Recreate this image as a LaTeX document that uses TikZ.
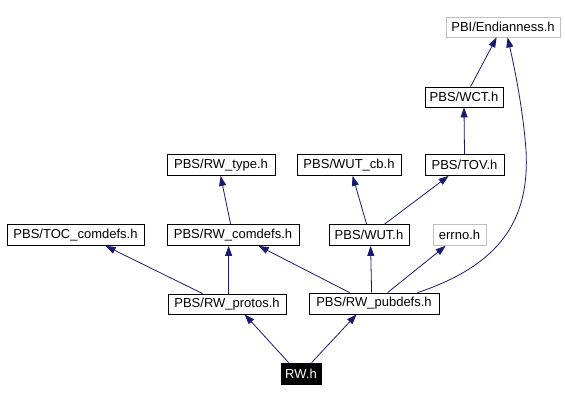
\documentclass[tikz,border=0pt]{standalone}
\usepackage{fontspec}
\setmainfont{Liberation Sans}
\usetikzlibrary{arrows.meta,calc}
\definecolor{edgeblue}{HTML}{191970}
\definecolor{graybox}{HTML}{BFBFBF}
\begin{document}
\begin{tikzpicture}[x=1pt,y=-1pt,
  box/.style={draw=black,line width=0.8pt,fill=white,inner sep=0pt,minimum height=21pt,font=\fontsize{13}{15}\selectfont},
  gbox/.style={box,draw=graybox},
  rwbox/.style={box,fill=black,text=white},
  dep/.style={draw=edgeblue,line width=0.8pt,-{Triangle[length=10pt,width=7pt]}}]
\useasboundingbox (0,0) rectangle (565,401);
\node[gbox,minimum width=114pt,minimum height=20pt] (endian) at (503,27) {PBI/Endianness.h};
\node[box,minimum width=78pt,minimum height=20pt] (wct) at (464,97) {PBS/WCT.h};
\node[box,minimum width=79pt] (tov) at (464.5,165) {PBS/TOV.h};
\node[box,minimum width=104pt] (wutcb) at (349,165) {PBS/WUT\_cb.h};
\node[box,minimum width=108pt] (rwtype) at (221,165) {PBS/RW\_type.h};
\node[box,minimum width=137pt] (toc) at (75.5,235) {PBS/TOC\_comdefs.h};
\node[box,minimum width=132pt] (rwcomdefs) at (233,235) {PBS/RW\_comdefs.h};
\node[box,minimum width=80pt] (wut) at (369,235) {PBS/WUT.h};
\node[gbox,minimum width=53pt] (errno) at (459.5,235) {errno.h};
\node[box,minimum width=118pt,minimum height=20pt] (protos) at (227,304) {PBS/RW\_protos.h};
\node[box,minimum width=130pt] (pubdefs) at (374,303.5) {PBS/RW\_pubdefs.h};
\node[rwbox,minimum width=40pt] (rw) at (301,373.5) {RW.h};

\draw[dep] ($(rw.north west)+(8,0)$) -- ($(protos.south west)+(77,0)$);
\draw[dep] ($(rw.north west)+(31,0)$) -- ($(pubdefs.south west)+(48,0)$);
\draw[dep] ($(protos.north west)+(35,0)$) -- ($(toc.south west)+(99,0)$);
\draw[dep] ($(protos.north west)+(61,0)$) -- ($(rwcomdefs.south west)+(62,0)$);
\draw[dep] ($(pubdefs.north west)+(41,0)$) -- ($(rwcomdefs.south west)+(92,0)$);
\draw[dep] ($(pubdefs.north west)+(63,0)$) -- ($(wut.south west)+(42,0)$);
\draw[dep] ($(pubdefs.north west)+(79,0)$) -- ($(errno.south west)+(13,0)$);
\draw[dep] ($(pubdefs.north west)+(109,0)$) .. controls (500,265) and (530,220) .. (526,150)
  .. controls (523,110) and (515,70) .. ($(endian.south west)+(62,0)$);
\draw[dep] ($(rwcomdefs.north west)+(64,0)$) -- ($(rwtype.south west)+(54,0)$);
\draw[dep] ($(wut.north west)+(38,0)$) -- ($(wutcb.south west)+(56,0)$);
\draw[dep] ($(wut.north west)+(56,0)$) -- ($(tov.south west)+(24,0)$);
\draw[dep] (tov.north) -- (wct.south);
\draw[dep] ($(wct.north west)+(46,0)$) -- ($(endian.south west)+(51,0)$);
\end{tikzpicture}
\end{document}
